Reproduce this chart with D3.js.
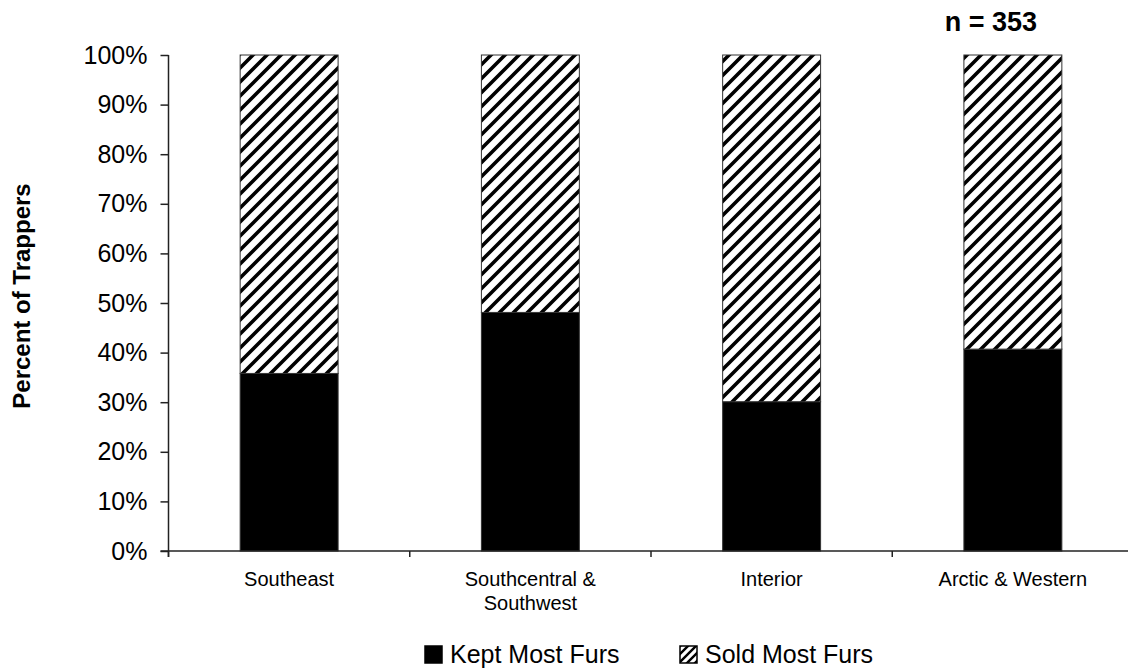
<!DOCTYPE html>
<html>
<head>
<meta charset="utf-8">
<script src="https://cdn.jsdelivr.net/npm/d3@7"></script>
<style>
  html, body { margin: 0; padding: 0; background: #fff; }
  svg { display: block; font-family: "Liberation Sans", Arial, sans-serif; }
</style>
</head>
<body>
<svg id="chart" width="1128" height="669"></svg>
<script>
// Share of trappers who kept vs. sold most of their furs, by region
const regions = ["Southeast", "Southcentral & Southwest", "Interior", "Arctic & Western"];
const regionLabelLines = [["Southeast"], ["Southcentral &", "Southwest"], ["Interior"], ["Arctic & Western"]];
const keptMostFurs = [0.358, 0.481, 0.301, 0.407];
const soldMostFurs = [0.642, 0.519, 0.699, 0.593];
const seriesNames = ["Kept Most Furs", "Sold Most Furs"];
const yTicks = [0, 0.1, 0.2, 0.3, 0.4, 0.5, 0.6, 0.7, 0.8, 0.9, 1.0];
const sampleNote = "n = 353";

const svg = d3.select("#chart");
const axisColor = "#222";

// Diagonal hatch for the "sold" segments
const defs = svg.append("defs");
const hatch = defs.append("pattern")
  .attr("id", "hatch")
  .attr("patternUnits", "userSpaceOnUse")
  .attr("width", 14).attr("height", 14);
hatch.append("rect").attr("width", 14).attr("height", 14).attr("fill", "#fff");
hatch.append("path")
  .attr("d", "M-2,2 L2,-2 M0,14 L14,0 M12,16 L16,12")
  .attr("stroke", "#000").attr("stroke-width", 3.6);

const hatchSmall = defs.append("pattern")
  .attr("id", "hatchSmall")
  .attr("patternUnits", "userSpaceOnUse")
  .attr("width", 8).attr("height", 8);
hatchSmall.append("rect").attr("width", 8).attr("height", 8).attr("fill", "#fff");
hatchSmall.append("path")
  .attr("d", "M-2,2 L2,-2 M0,8 L8,0 M6,10 L10,6")
  .attr("stroke", "#000").attr("stroke-width", 2.4);

const x = d3.scaleBand()
  .domain(regions)
  .range([168.5, 1133.5])
  .paddingInner(0.594)
  .paddingOuter(0.297);

const y = d3.scaleLinear().domain([0, 1]).range([551, 55]);

const rows = regions.map((r, i) => ({ region: r, kept: keptMostFurs[i], sold: soldMostFurs[i] }));
const stack = d3.stack().keys(["kept", "sold"])(rows);

// Bars
const layers = svg.append("g").selectAll("g")
  .data(stack)
  .join("g")
  .attr("fill", d => d.key === "kept" ? "#000" : "url(#hatch)");

layers.selectAll("rect")
  .data(d => d)
  .join("rect")
  .attr("x", d => x(d.data.region))
  .attr("width", x.bandwidth())
  .attr("y", d => y(d[1]))
  .attr("height", d => y(d[0]) - y(d[1]))
  .attr("stroke", "#333")
  .attr("stroke-width", 1);

// Y axis
const yAxis = svg.append("g")
  .attr("transform", "translate(168.5,0)")
  .call(d3.axisLeft(y).tickValues(yTicks).tickFormat(d3.format(".0%")).tickSize(8).tickPadding(13));
yAxis.select(".domain").attr("d", `M0,${y(1)}V${y(0) + 6}`).attr("stroke", axisColor).attr("stroke-width", 1.5);
yAxis.selectAll(".tick line").attr("stroke", axisColor).attr("stroke-width", 1.5);
yAxis.selectAll(".tick text")
  .attr("fill", "#000")
  .style("font-size", "25px");

// X axis baseline with ticks at category boundaries
const xr = x.range();
svg.append("line")
  .attr("x1", xr[0] - 8).attr("x2", xr[1])
  .attr("y1", y(0)).attr("y2", y(0))
  .attr("stroke", axisColor).attr("stroke-width", 1.5);
const bounds = d3.range(regions.length + 1).map(i => xr[0] + i * x.step());
svg.append("g").selectAll("line")
  .data(bounds)
  .join("line")
  .attr("x1", d => d).attr("x2", d => d)
  .attr("y1", y(0)).attr("y2", y(0) + 6)
  .attr("stroke", axisColor).attr("stroke-width", 1.5);

// Category labels
const xl = svg.append("g").selectAll("text")
  .data(regions)
  .join("text")
  .attr("x", d => x(d) + x.bandwidth() / 2)
  .attr("y", 586)
  .attr("text-anchor", "middle")
  .style("font-size", "20px")
  .attr("fill", "#000");
xl.selectAll("tspan")
  .data((d, i) => regionLabelLines[i])
  .join("tspan")
  .attr("x", function() { return this.parentNode.getAttribute("x"); })
  .attr("dy", (d, i) => i === 0 ? 0 : 24)
  .text(d => d);

// Y axis title
svg.append("text")
  .attr("transform", "translate(30,296) rotate(-90)")
  .attr("text-anchor", "middle")
  .style("font-size", "24px")
  .style("font-weight", "bold")
  .text("Percent of Trappers");

// Sample size note
svg.append("text")
  .attr("x", 1037).attr("y", 31)
  .attr("text-anchor", "end")
  .style("font-size", "27px")
  .style("font-weight", "bold")
  .text(sampleNote);

// Legend
const legendItems = [
  { name: seriesNames[0], fill: "#000", x: 425 },
  { name: seriesNames[1], fill: "url(#hatchSmall)", x: 680 }
];
const lg = svg.append("g").selectAll("g")
  .data(legendItems)
  .join("g")
  .attr("transform", d => `translate(${d.x},646)`);
lg.append("rect")
  .attr("width", 17).attr("height", 17)
  .attr("fill", d => d.fill)
  .attr("stroke", "#000").attr("stroke-width", 1.5);
lg.append("text")
  .attr("x", 25).attr("y", 17)
  .style("font-size", "25px")
  .text(d => d.name);
</script>
</body>
</html>
